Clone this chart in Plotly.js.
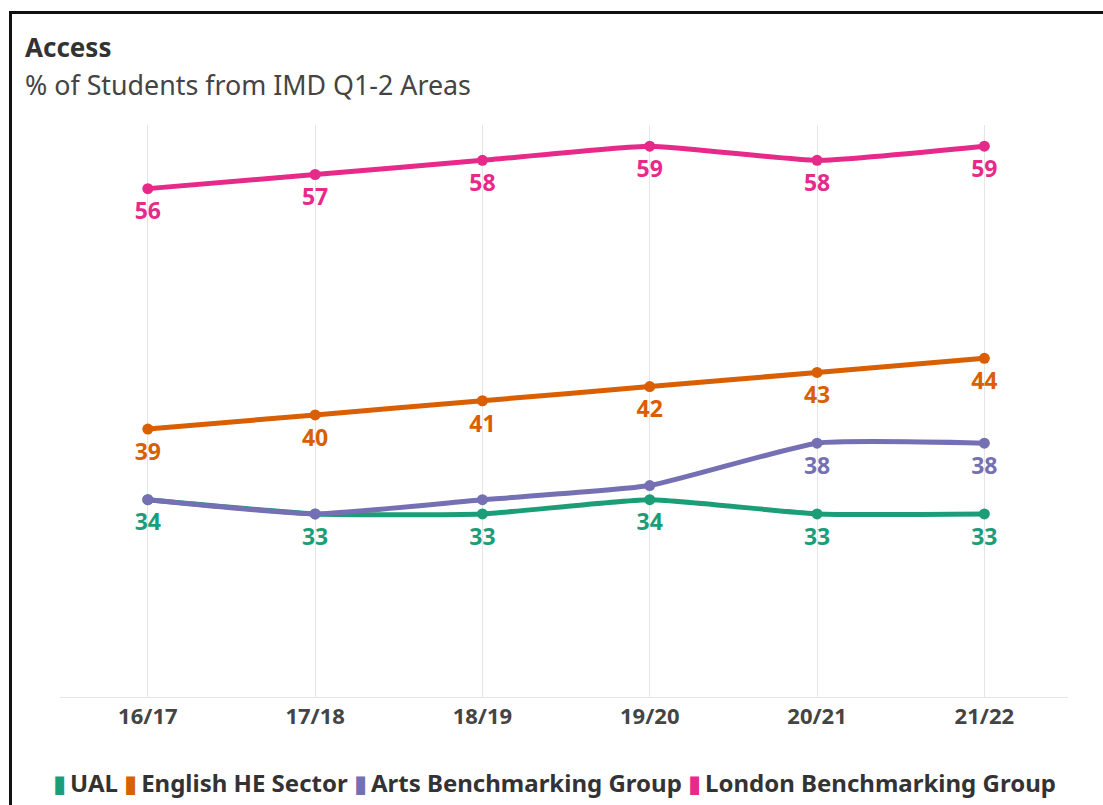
<!DOCTYPE html>
<html>
<head>
<meta charset="utf-8">
<script src="https://cdn.plot.ly/plotly-3.0.1.min.js"></script>
<style>
  html, body { margin:0; padding:0; background:#fff; }
  #wrap { position:relative; width:1103px; height:805px; overflow:hidden; }
  #chart { position:absolute; left:0; top:0; width:1103px; height:805px; }
  #frame { position:absolute; left:9px; top:11px; width:1200px; height:900px;
           border-top:3px solid #111; border-left:3px solid #111; pointer-events:none; }
</style>
</head>
<body>
<div id="wrap">
  <div id="chart"></div>
  <div id="frame"></div>
</div>
<script>
const years = ["16/17", "17/18", "18/19", "19/20", "20/21", "21/22"];
const ual = [34, 33, 33, 34, 33, 33];
const english = [39, 40, 41, 42, 43, 44];
const arts = [34, 33, 34, 35, 38, 38];
const london = [56, 57, 58, 59, 58, 59];
const artsLabels = ["", "", "", "", "38", "38"];

const seriesNames = ["UAL", "English HE Sector", "Arts Benchmarking Group", "London Benchmarking Group"];
const colors = { ual: "#1b9e77", english: "#d95f02", arts: "#7570b3", london: "#e7298a" };

const FONT = "Noto Sans, Lato, sans-serif";

function lineTrace(name, y, color) {
  return {
    type: "scatter",
    mode: "lines+markers",
    name: name,
    x: years,
    y: y,
    line: { color: color, width: 5, shape: "spline", smoothing: 0.45 },
    marker: { color: color, size: 11 },
    hoverinfo: "x+y+name",
    showlegend: false,
    cliponaxis: false
  };
}
function labelTrace(name, y, color, text) {
  return {
    type: "scatter",
    mode: "markers+text",
    name: name,
    x: years,
    y: y,
    text: text || y.map(v => String(v)),
    texttemplate: "<b>%{text}</b>",
    textposition: "bottom center",
    textfont: { family: FONT, size: 23, color: color },
    marker: { color: "rgba(0,0,0,0)", size: 20 },
    hoverinfo: "skip",
    showlegend: false,
    cliponaxis: false
  };
}

const data = [
  lineTrace(seriesNames[3], london, colors.london),
  lineTrace(seriesNames[1], english, colors.english),
  lineTrace(seriesNames[0], ual, colors.ual),
  lineTrace(seriesNames[2], arts, colors.arts),
  labelTrace(seriesNames[3], london, colors.london),
  labelTrace(seriesNames[1], english, colors.english),
  labelTrace(seriesNames[0], ual, colors.ual),
  labelTrace(seriesNames[2], arts, colors.arts, artsLabels)
];

const legendColors = [colors.ual, colors.english, colors.arts, colors.london];
const legendText = seriesNames.map((n, i) =>
  `<span style="color:${legendColors[i]}">▮</span>\u2009<b>${n}</b>`).join(" ");

const layout = {
  width: 1103,
  height: 805,
  paper_bgcolor: "#ffffff",
  plot_bgcolor: "#ffffff",
  margin: { l: 60, r: 35, t: 125, b: 108 },
  font: { family: FONT, color: "#333333" },
  xaxis: {
    type: "category",
    range: [-0.525, 5.5],
    showgrid: true,
    gridcolor: "#e6e6e6",
    gridwidth: 1,
    showline: true,
    linecolor: "#e6e6e6",
    linewidth: 1,
    zeroline: false,
    ticks: "",
    tickfont: { family: FONT, size: 22, color: "#444444", weight: 700 },
    fixedrange: true
  },
  yaxis: {
    range: [20.05, 60.5],
    visible: false,
    showgrid: false,
    zeroline: false,
    fixedrange: true
  },
  annotations: [
    {
      xref: "paper", yref: "paper",
      x: -0.009, y: -0.149,
      xanchor: "left", yanchor: "middle",
      showarrow: false,
      text: legendText,
      font: { family: FONT, size: 24, color: "#333333" }
    },
    {
      xref: "paper", yref: "paper",
      x: -37 / 1008, y: 1 + (125 - 47) / 572,
      xanchor: "left", yanchor: "middle",
      showarrow: false,
      text: "<b>Access</b>",
      font: { family: FONT, size: 26, color: "#333333" }
    },
    {
      xref: "paper", yref: "paper",
      x: -37 / 1008, y: 1 + (125 - 84) / 572,
      xanchor: "left", yanchor: "middle",
      showarrow: false,
      text: "% of Students from IMD Q1-2 Areas",
      font: { family: FONT, size: 26.8, color: "#444444" }
    }
  ],
  showlegend: false
};

Plotly.newPlot("chart", data, layout, { displayModeBar: false, staticPlot: true });
</script>
</body>
</html>
